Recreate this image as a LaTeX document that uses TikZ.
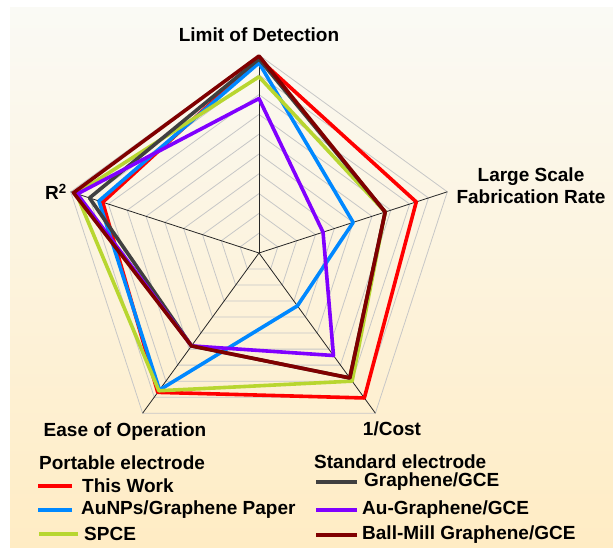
\documentclass[tikz,border=0pt]{standalone}
\usepackage{fontspec}
\setmainfont{Liberation Sans}
\usepackage{tikz}
\usepackage{xcolor}
\definecolor{bg-top}{RGB}{250,250,245}
\definecolor{bg-bottom}{RGB}{255,236,196}
\definecolor{work-red}{RGB}{255,0,0}
\definecolor{aunp-blue}{RGB}{0,136,255}
\definecolor{spce-green}{RGB}{184,214,48}
\definecolor{gce-gray}{RGB}{64,64,64}
\definecolor{augr-purple}{RGB}{128,0,255}
\definecolor{ball-brown}{RGB}{128,0,0}
\tikzset{
    grid-line/.style = {draw=black!22, line width=0.8pt},
    axis-line/.style = {draw=black!85, line width=0.8pt},
    data-line/.style = {line width=3.6pt, line join=round},
    axis-label/.style = {font=\fontsize{19}{22}\selectfont\bfseries, inner sep=0pt, align=center},
    legend-text/.style = {font=\fontsize{19}{22}\selectfont\bfseries, inner sep=0pt, anchor=west},
}
\newcommand{\radarplot}[6]{%
    \draw[data-line, #1] (90:{#2*19.8}) -- (18:{#3*19.8}) -- (-54:{#4*19.8}) -- (-126:{#5*19.8}) -- (162:{#6*19.8}) -- cycle;}

\begin{document}
\begin{tikzpicture}[x=1pt, y=1pt]
\useasboundingbox (0,0) rectangle (613,547);
\fill[white] (0,0) rectangle (613,547);
\shade[top color=bg-top, bottom color=bg-bottom] (10,0) rectangle (613,539);

\begin{scope}[shift={(259,294)}]
    % pentagon grid, ten levels
    \foreach \k in {1,...,10} {
        \draw[grid-line] (90:\k*19.8) -- (18:\k*19.8) -- (-54:\k*19.8) -- (-126:\k*19.8) -- (162:\k*19.8) -- cycle;
    }
    \coordinate (ctr) at (0,0);
    \foreach \a in {90,18,-54,-126,162} {
        \draw[axis-line] (ctr) -- (\a:198);
    }
    % one polygon per electrode
    \radarplot{work-red}{9.8}{8.35}{9.05}{8.7}{8.3}
    \radarplot{aunp-blue}{9.6}{5.0}{3.3}{8.55}{8.5}
    \radarplot{spce-green}{8.9}{6.7}{8.0}{8.6}{9.7}
    \radarplot{gce-gray}{9.8}{6.7}{7.8}{5.8}{9.0}
    \radarplot{augr-purple}{7.8}{3.4}{6.4}{5.8}{9.65}
    \radarplot{ball-brown}{9.95}{6.7}{7.8}{5.8}{9.85}
\end{scope}

\node[axis-label] (lod) at (259,512) {Limit of Detection};
\node[axis-label] (fab) at (531,361) {Large Scale\\Fabrication Rate};
\node[axis-label, anchor=east] (rsq) at (67,355) {R\textsuperscript{2}};
\node[axis-label] (ease) at (125,115) {Ease of Operation};
\node[axis-label] (cost) at (392,118) {1/Cost};

% legend
\node[legend-text] (portable) at (39,84) {Portable electrode};
\node[legend-text] (standard) at (314,85) {Standard electrode};
\node[legend-text] (this-work) at (82,61) {This Work};
\node[legend-text] (aunp) at (81,37) {AuNPs/Graphene Paper};
\node[legend-text] (spce) at (84,13) {SPCE};
\node[legend-text] (gce) at (364,65) {Graphene/GCE};
\node[legend-text] (au-gce) at (362,37) {Au-Graphene/GCE};
\node[legend-text] (ball-gce) at (362,12) {Ball-Mill Graphene/GCE};
\draw[data-line, work-red] ([xshift=-10pt]this-work.west) -- ++(-34,0);
\draw[data-line, aunp-blue] ([xshift=-9pt]aunp.west) -- ++(-34,0);
\draw[data-line, spce-green] ([xshift=-6pt]spce.west) -- ++(-39,0);
\draw[data-line, gce-gray] ([xshift=-7pt]gce.west) -- ++(-41,0);
\draw[data-line, augr-purple] ([xshift=-5pt]au-gce.west) -- ++(-41,0);
\draw[data-line, ball-brown] ([xshift=-5pt]ball-gce.west) -- ++(-41,0);
\end{tikzpicture}
\end{document}
